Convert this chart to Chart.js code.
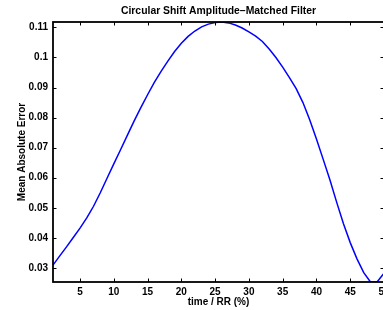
<!DOCTYPE html>
<html lang="en">
<head>
    <meta charset="UTF-8">
    <title>Circular Shift Amplitude-Matched Filter</title>
    <script src="https://cdn.jsdelivr.net/npm/chart.js"></script>
    <style>
        html, body { margin: 0; padding: 0; background: #fff; overflow: hidden; }
        #wrap { width: 383px; height: 310px; overflow: hidden; }
        canvas { display: block; }
    </style>
</head>
<body>
    <div id="wrap">
        <canvas id="mae" width="384" height="310"></canvas>
    </div>

    <script>
        // time / RR (%) 1..50
        const shiftPct = [
            1, 2, 3, 4, 5, 6, 7, 8, 9, 10,
            11, 12, 13, 14, 15, 16, 17, 18, 19, 20,
            21, 22, 23, 24, 25, 26, 27, 28, 29, 30,
            31, 32, 33, 34, 35, 36, 37, 38, 39, 40,
            41, 42, 43, 44, 45, 46, 47, 48, 49, 50
        ];
        // mean absolute error
        const maeValues = [
            0.0309, 0.0340, 0.0370, 0.0401, 0.0432, 0.0466, 0.0505, 0.0550, 0.0598, 0.0646,
            0.0693, 0.0741, 0.0788, 0.0833, 0.0876, 0.0917, 0.0954, 0.0988, 0.1020, 0.1047,
            0.1070, 0.1088, 0.1102, 0.1111, 0.1116, 0.1118, 0.1115, 0.1108, 0.1098, 0.1085,
            0.1071, 0.1053, 0.1028, 0.1000, 0.0968, 0.0933, 0.0896, 0.0850, 0.0793, 0.0729,
            0.0661, 0.0592, 0.0518, 0.0447, 0.0384, 0.0330, 0.0284, 0.0253, 0.0254, 0.0282
        ];
        const xTicks = [5, 10, 15, 20, 25, 30, 35, 40, 45, 50];
        const yTicks = [0.03, 0.04, 0.05, 0.06, 0.07, 0.08, 0.09, 0.1, 0.11];
        const chartTitle = 'Circular Shift Amplitude\u2013Matched Filter';

        const FONT = '"Liberation Sans", Arial, Helvetica, sans-serif';

        // matlab style box with inward ticks on every side, title over the axes
        const boxTicks = {
            id: 'boxTicks',
            afterDraw(chart) {
                const { ctx, chartArea: a, scales: { x, y } } = chart;
                const len = 3.5;
                ctx.save();
                ctx.strokeStyle = '#000';
                ctx.lineWidth = 1;
                ctx.beginPath();
                xTicks.forEach(v => {
                    const px = Math.round(x.getPixelForValue(v)) + 0.5;
                    ctx.moveTo(px, a.bottom); ctx.lineTo(px, a.bottom - len);
                    ctx.moveTo(px, a.top); ctx.lineTo(px, a.top + len);
                });
                yTicks.forEach(v => {
                    const py = Math.round(y.getPixelForValue(v)) + 0.5;
                    ctx.moveTo(a.left, py); ctx.lineTo(a.left + len, py);
                    ctx.moveTo(a.right, py); ctx.lineTo(a.right - len, py);
                });
                ctx.stroke();
                ctx.lineWidth = 1.8;
                ctx.strokeRect(a.left, a.top, a.right - a.left, a.bottom - a.top);

                ctx.fillStyle = '#000';
                ctx.font = 'bold 10.4px ' + FONT;
                ctx.textAlign = 'center';
                ctx.textBaseline = 'middle';
                ctx.fillText(chartTitle, (a.left + a.right) / 2, 11);
                ctx.restore();
            }
        };

        const ctx = document.getElementById('mae').getContext('2d');
        new Chart(ctx, {
            type: 'line',
            data: {
                datasets: [{
                    data: shiftPct.map((v, i) => ({ x: v, y: maeValues[i] })),
                    borderColor: '#0000ff',
                    borderWidth: 1.5,
                    pointRadius: 0,
                    tension: 0,
                    fill: false
                }]
            },
            options: {
                responsive: false,
                animation: false,
                layout: { autoPadding: false, padding: { top: 22, left: 0, right: 0, bottom: 0 } },
                plugins: {
                    legend: { display: false },
                    tooltip: { enabled: false },
                    title: { display: false }
                },
                scales: {
                    x: {
                        type: 'linear',
                        min: 1,
                        max: 50,
                        grid: { display: false, drawTicks: false },
                        border: { display: false },
                        afterBuildTicks: s => { s.ticks = xTicks.map(v => ({ value: v })); },
                        afterFit: s => { s.height = 28; s.paddingLeft = 0; s.paddingRight = 0; },
                        ticks: {
                            color: '#000',
                            padding: 4,
                            maxRotation: 0,
                            autoSkip: false,
                            font: { family: FONT, size: 10, weight: 'bold' }
                        },
                        title: {
                            display: true,
                            text: 'time / RR (%)',
                            color: '#000',
                            font: { family: FONT, size: 10, weight: 'bold' },
                            padding: { top: 0, bottom: 2 }
                        }
                    },
                    y: {
                        type: 'linear',
                        min: Math.min(...maeValues),
                        max: Math.max(...maeValues),
                        grid: { display: false, drawTicks: false },
                        border: { display: false },
                        afterBuildTicks: s => { s.ticks = yTicks.map(v => ({ value: v })); },
                        afterFit: s => { s.width = 53; s.paddingTop = 0; s.paddingBottom = 0; },
                        ticks: {
                            color: '#000',
                            padding: 5,
                            autoSkip: false,
                            font: { family: FONT, size: 10, weight: 'bold' },
                            callback: v => String(Number(v.toFixed(2)))
                        },
                        title: {
                            display: true,
                            text: 'Mean Absolute Error',
                            color: '#000',
                            font: { family: FONT, size: 10, weight: 'bold' },
                            padding: { top: 16, bottom: 0 }
                        }
                    }
                }
            },
            plugins: [boxTicks]
        });
    </script>
</body>
</html>
